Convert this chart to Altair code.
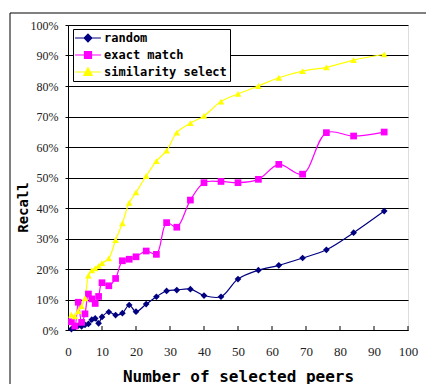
import altair as alt
import pandas as pd

# ---- data ----
peers = [1, 2, 3, 4, 5, 6, 7, 8, 9, 10, 12, 14, 16, 18, 20, 23, 26, 29, 32, 36,
         40, 45, 50, 56, 62, 69, 76, 84, 93]
recall_random = [0.3, 0.8, 1.4, 1.2, 1.7, 2.0, 3.4, 3.8, 2.2, 4.3, 5.9, 4.9, 5.5, 8.2,
                 6.0, 8.5, 10.9, 12.8, 13.1, 13.4, 11.3, 10.9, 16.7, 19.6, 21.2,
                 23.6, 26.3, 31.9, 39.0]
recall_exact = [2.7, 1.3, 9.1, 2.5, 5.3, 11.8, 10.2, 8.7, 11.0, 15.5, 14.5, 16.9, 22.7,
                23.2, 24.0, 25.9, 24.8, 35.2, 33.7, 42.6, 48.3, 48.7, 48.3, 49.4,
                54.3, 51.1, 64.7, 63.6, 64.9]
recall_similarity = [5.0, 4.5, 6.2, 7.8, 10.4, 17.8, 19.6, 20.2, 21.0, 21.9, 23.5, 29.5,
                     35.0, 41.7, 45.1, 50.5, 55.4, 58.8, 64.7, 67.8, 70.2, 74.9, 77.4,
                     80.0, 82.7, 84.9, 86.1, 88.5, 90.4]

series_names = ["random", "exact match", "similarity select"]
series_colors = ["#000080", "#FF00FF", "#FFFF00"]
series_shapes = ["diamond", "square", "triangle-up"]
x_ticks = [0, 10, 20, 30, 40, 50, 60, 70, 80, 90, 100]
y_ticks = [0, 0.1, 0.2, 0.3, 0.4, 0.5, 0.6, 0.7, 0.8, 0.9, 1.0]

rows = []
for name, vals in zip(series_names, [recall_random, recall_exact, recall_similarity]):
    for p, v in zip(peers, vals):
        rows.append({"peers": p, "recall": v / 100.0, "series": name})
df = pd.DataFrame(rows)
legend_df = pd.DataFrame({"series": series_names})
ticks_df = pd.DataFrame({"peers": x_ticks[1:]})

W, H = 340, 305
MONO = "DejaVu Sans Mono"
SERIF = "Liberation Serif"

xscale = alt.Scale(domain=[0, 100], nice=False)
yscale = alt.Scale(domain=[0, 1], nice=False)

x_axis = alt.Axis(values=x_ticks, title="Number of selected peers", grid=False,
                  ticks=False, labelPadding=15, labelFont=SERIF, labelFontSize=13,
                  labelColor="#222", labelFlush=False, domainColor="#000",
                  titleFont=MONO, titleFontSize=16, titleFontWeight="bold",
                  titleColor="#000", titleX=170, titleY=46, titleBaseline="middle")
x_enc = alt.X("peers:Q", scale=xscale, axis=x_axis)
y_enc = alt.Y(
    "recall:Q", scale=yscale,
    axis=alt.Axis(values=y_ticks, format=".0%", title="Recall", grid=True,
                  gridColor="#000", gridOpacity=1, tickSize=3, tickColor="#000",
                  labelPadding=7, labelFont=SERIF, labelFontSize=12,
                  labelColor="#222", labelFlush=False, domainColor="#000",
                  titleFont=MONO, titleFontSize=14, titleFontWeight="bold",
                  titleColor="#000", titleAngle=-90, titleX=-45, titleY=182,
                  titleAlign="center", titleBaseline="middle"),
)

layers = []
# smoothed lines
for name, col in zip(series_names, series_colors):
    layers.append(
        alt.Chart(df).transform_filter(alt.datum.series == name)
        .mark_line(interpolate="catmull-rom", color=col, strokeWidth=1.2)
        .encode(x=x_enc, y=y_enc)
    )
# markers
for name, col, shp in zip(series_names, series_colors, series_shapes):
    layers.append(
        alt.Chart(df).transform_filter(alt.datum.series == name)
        .mark_point(shape=shp, filled=True, color=col, size=45, opacity=1)
        .encode(x=x_enc, y=y_enc)
    )

# legend: line + marker symbols
leg_paths = [
    "M-3.7,0H3.7M0,-1.1L1.1,0L0,1.1L-1.1,0Z",
    "M-3.7,0H3.7M-1,-1H1V1H-1Z",
    "M-3.7,0H3.7M0,-1.2L1.2,1L-1.2,1Z",
]
leg_scale_fill = alt.Scale(domain=series_names, range=series_colors)
leg_scale_shape = alt.Scale(domain=series_names, range=leg_paths)
legend_cfg = alt.Legend(
    title=None, orient="none", legendX=5, legendY=4, direction="vertical",
    labelFont=MONO, labelFontSize=12, labelFontWeight="bold", labelColor="#000",
    symbolSize=49, symbolStrokeWidth=1.2, labelOffset=10, rowPadding=4,
    padding=3, strokeColor="#000", fillColor="#fff", symbolOffset=6,
)
layers.append(
    alt.Chart(legend_df).transform_filter("datum.series == null")
    .mark_point(filled=True, size=49, opacity=1)
    .encode(
        fill=alt.Fill("series:N", scale=leg_scale_fill, legend=legend_cfg),
        stroke=alt.Stroke("series:N", scale=leg_scale_fill, legend=legend_cfg),
        shape=alt.Shape("series:N", scale=leg_scale_shape, legend=legend_cfg),
    )
)

# inward x ticks
layers.append(
    alt.Chart(ticks_df).mark_rule(color="#000", strokeWidth=1)
    .encode(x=x_enc, y=alt.value(H), y2=alt.value(H - 4))
)
# outer frame (left and top edges)
frame_df = pd.DataFrame({"k": [0]})
layers.append(
    alt.Chart(frame_df).mark_rule(color="#000", strokeWidth=1)
    .encode(x=alt.value(-58), y=alt.value(-12), y2=alt.value(400))
)
layers.append(
    alt.Chart(frame_df).mark_rule(color="#000", strokeWidth=1)
    .encode(x=alt.value(-58), x2=alt.value(420), y=alt.value(-12))
)

chart = alt.layer(*layers).properties(
    width=W, height=H,
    autosize=alt.AutoSizeParams(type="none"),
    padding={"left": 60, "top": 17, "right": 18, "bottom": 54},
).configure_view(stroke="#808080", strokeWidth=1.5).configure(background="#fff")

chart.save("out.html", embed_options={"renderer": "svg", "actions": False})
